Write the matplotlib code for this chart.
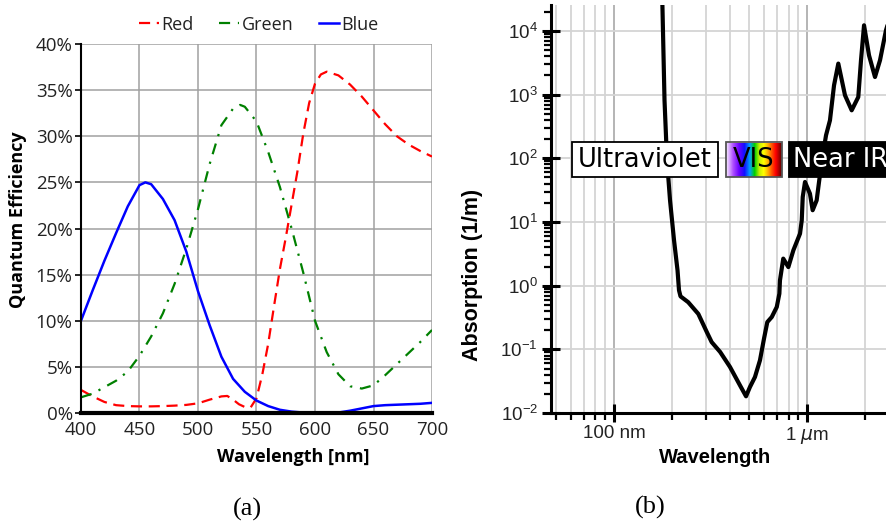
import numpy as np
import matplotlib
matplotlib.use("Agg")
import matplotlib.pyplot as plt
from matplotlib.colors import LinearSegmentedColormap
from matplotlib.patches import Rectangle
from matplotlib.ticker import LogLocator, FixedLocator, NullFormatter, FuncFormatter

# ---- panel (a): quantum efficiency of the RGB filters (%)
red_wl = [400, 410, 420, 430, 440, 450, 460, 470, 480, 490, 500, 510, 520, 525, 530, 535, 540, 545,
          550, 555, 560, 565, 570, 575, 580, 585, 590, 595, 600, 605, 610, 620, 630, 640, 650, 660,
          670, 680, 690, 700]
red_qe = [2.5, 1.8, 1.2, 0.85, 0.75, 0.72, 0.72, 0.75, 0.8, 0.88, 1.05, 1.45, 1.8, 1.85, 1.45, 0.95,
          0.65, 0.6, 1.6, 4.2, 7.5, 11.6, 15.6, 19.0, 22.6, 26.2, 30.3, 33.6, 35.7, 36.7, 37.0, 36.6,
          35.6, 34.3, 32.8, 31.3, 30.0, 29.1, 28.4, 27.8]

green_wl = [400, 410, 420, 430, 440, 450, 460, 470, 480, 490, 500, 510, 520, 530, 536, 540, 550, 560,
            570, 580, 590, 600, 610, 620, 630, 640, 650, 660, 670, 680, 690, 700]
green_qe = [1.7, 2.1, 2.8, 3.5, 4.5, 6.2, 8.3, 10.8, 14.0, 17.8, 22.1, 27.0, 31.2, 33.0, 33.4, 33.2,
            31.6, 28.3, 24.5, 20.0, 15.2, 10.0, 6.6, 4.2, 2.9, 2.65, 3.0, 4.1, 5.3, 6.5, 7.7, 9.0]

blue_wl = [400, 410, 420, 430, 440, 450, 455, 460, 470, 480, 490, 500, 510, 520, 530, 540, 550, 560,
           570, 580, 590, 600, 610, 620, 630, 640, 650, 660, 670, 680, 690, 700]
blue_qe = [10.0, 13.3, 16.5, 19.5, 22.4, 24.7, 25.0, 24.8, 23.2, 20.9, 17.5, 13.2, 9.5, 6.1, 3.7,
           2.3, 1.35, 0.75, 0.35, 0.15, 0.05, 0.0, 0.0, 0.05, 0.25, 0.5, 0.75, 0.85, 0.9, 0.95, 1.0, 1.1]

# ---- panel (b): absorption of water (1/m) vs wavelength (nm)
water_wl = [176, 178, 182.5, 188, 194.9, 204.4, 213.1, 216.9, 220.8, 242, 273, 302, 320, 354, 398,
            449, 482, 505, 536, 569, 597, 621, 655, 695, 717, 722, 751, 798, 847, 917, 936, 947, 973,
            1032, 1066, 1118, 1153, 1191, 1250, 1310, 1375, 1447, 1567, 1697, 1836, 1896, 1966, 2086,
            2240, 2378, 2553, 2742]
water_abs = [4.0e4, 2.5e4, 815, 93, 21.9, 5.16, 1.74, 0.845, 0.68, 0.55, 0.36, 0.187, 0.13, 0.091,
             0.053, 0.027, 0.0183, 0.0256, 0.0367, 0.0673, 0.147, 0.268, 0.322, 0.462, 0.75, 1.21, 2.66,
             1.96, 3.59, 6.57, 10.6, 24.7, 42.5, 27.9, 15.3, 21.9, 45.2, 93, 230, 395, 1400, 3075, 977,
             568, 919, 3466, 12280, 4150, 1893, 3466, 10250, 21100]

# spectral regions (nm) and the band they sit in (1/m)
region_names = ["Ultraviolet", "VIS", "Near IR"]
region_lo = [60.4, 378, 804]
region_hi = [345, 740, 8000]
band_lo, band_hi = 51, 180

fig = plt.figure(figsize=(8.86, 5.27), dpi=100)

# ================= (a) =================
qfont = "Open Sans"
ax1 = fig.add_axes([0.0914, 0.2163, 0.3962, 0.7002])
ax1.plot(red_wl, red_qe, color="#ff0000", lw=1.6, ls=(0, (5, 3)), label="Red")
ax1.plot(green_wl, green_qe, color="#008000", lw=1.6, ls=(0, (5, 3.5, 1, 3.5)), label="Green")
ax1.plot(blue_wl, blue_qe, color="#0000ff", lw=1.8, label="Blue")
ax1.set_xlim(400, 700)
ax1.set_ylim(0, 40)
ax1.set_xticks(np.arange(400, 701, 50))
ax1.set_yticks(np.arange(0, 41, 5))
ax1.yaxis.set_major_formatter(FuncFormatter(lambda v, p: "%d%%" % v))
ax1.grid(True, color="#a0a0a0", lw=1.1)
ax1.set_axisbelow(True)
for s in ["top", "right"]:
    ax1.spines[s].set_visible(False)
ax1.spines["bottom"].set_linewidth(3)
ax1.spines["left"].set_linewidth(1.5)
ax1.tick_params(axis="x", length=0, pad=6)
ax1.tick_params(axis="y", length=4, width=1.2, direction="out", pad=2)
for lab in ax1.get_xticklabels() + ax1.get_yticklabels():
    lab.set_fontfamily(qfont)
    lab.set_fontsize(13.5)
    lab.set_color("#222222")
ax1.set_xlabel("Wavelength [nm]", fontfamily=qfont, fontsize=13, fontweight="bold")
ax1.set_ylabel("Quantum Efficiency", fontfamily=qfont, fontsize=13, fontweight="bold")
ax1.xaxis.set_label_coords(0.604, -0.119)
ax1.xaxis.label.set_va("center")
ax1.yaxis.set_label_coords(-0.179, 0.523)
ax1.yaxis.label.set_va("center")
leg = ax1.legend(loc="center", bbox_to_anchor=(0.292, 0.953), bbox_transform=fig.transFigure,
                 ncol=3, frameon=False, handlelength=1.1, handletextpad=0.15, columnspacing=1.4,
                 prop={"family": qfont, "size": 13})
for t in leg.get_texts():
    t.set_color("#222222")

# ================= (b) =================
bfont = "Liberation Sans"
ax2 = fig.add_axes([0.6219, 0.2163, 0.4616, 0.7742])
ax2.set_xscale("log")
ax2.set_yscale("log")
ax2.plot(water_wl, water_abs, color="black", lw=3, zorder=3, solid_joinstyle="round")

ax2.xaxis.set_major_locator(FixedLocator([100, 1000]))
ax2.xaxis.set_major_formatter(FuncFormatter(lambda v, p: "100 nm" if v < 500 else r"1 $\mu$m"))
ax2.xaxis.set_minor_locator(LogLocator(base=10, subs=np.arange(2, 10), numticks=50))
ax2.xaxis.set_minor_formatter(NullFormatter())
ax2.yaxis.set_major_locator(LogLocator(base=10, numticks=20))
ax2.yaxis.set_minor_locator(LogLocator(base=10, subs=np.arange(2, 10), numticks=50))
ax2.yaxis.set_minor_formatter(NullFormatter())

ax2.grid(True, which="minor", axis="x", color="#d4d4d4", lw=1.3)
ax2.grid(True, which="major", axis="x", color="#a0a0a0", lw=1.1)
ax2.grid(True, which="major", axis="y", color="#d4d4d4", lw=1.3)
ax2.set_axisbelow(True)
for s in ["top", "right"]:
    ax2.spines[s].set_visible(False)
for s in ["left", "bottom"]:
    ax2.spines[s].set_linewidth(2.2)
ax2.tick_params(which="major", direction="inout", length=13, width=2.2)
ax2.tick_params(which="minor", direction="out", length=5, width=1.6)
ax2.tick_params(axis="x", which="major", pad=2)
ax2.tick_params(axis="y", which="major", pad=3)
for lab in ax2.get_xticklabels() + ax2.get_yticklabels():
    lab.set_fontfamily(bfont)
    lab.set_fontsize(13.5)
    lab.set_color("#222222")
ax2.set_xlabel("Wavelength", fontfamily=bfont, fontsize=14.5, fontweight="bold")
ax2.set_ylabel("Absorption (1/m)", fontfamily=bfont, fontsize=15.5, fontweight="bold")
ax2.xaxis.set_label_coords(0.401, -0.110)
ax2.xaxis.label.set_va("center")
ax2.yaxis.set_label_coords(-0.193, 0.338)
ax2.yaxis.label.set_va("center")

# region boxes
vis_cmap = LinearSegmentedColormap.from_list(
    "vis", ["#f4e4ff", "#b050ff", "#6a00ff", "#1010ff", "#00a0ff", "#00d000", "#c8f000",
            "#ffff00", "#ffb000", "#ff5000", "#ff0000", "#a00000", "#300000"])
face = ["white", "none", "black"]
edge = ["black", "#555555", "black"]
tcol = ["black", "black", "white"]
for name, lo, hi, fc, ec, tc in zip(region_names, region_lo, region_hi, face, edge, tcol):
    if name == "VIS":
        ax2.imshow(np.linspace(0, 1, 256).reshape(1, -1), cmap=vis_cmap, aspect="auto",
                   extent=(lo, hi, band_lo, band_hi), zorder=4, interpolation="bilinear")
    ax2.add_patch(Rectangle((lo, band_lo), hi - lo, band_hi - band_lo, facecolor=fc,
                            edgecolor=ec, lw=1.3, zorder=5))
    if name == "Near IR":
        tx, ha = lo * 1.05, "left"
    else:
        tx, ha = np.sqrt(lo * hi), "center"
    ax2.text(tx, np.sqrt(band_lo * band_hi), name, ha=ha, va="center", color=tc,
             fontfamily="DejaVu Sans", fontsize=18.5, zorder=6)
ax2.set_xlim(47.2, 6166)
ax2.set_ylim(0.01, 25590)

# captions
fig.text(247 / 886, 1 - 509 / 527, "(a)", ha="center", va="center", fontfamily="Liberation Serif",
         fontsize=19)
fig.text(650 / 886, 1 - 507 / 527, "(b)", ha="center", va="center", fontfamily="Liberation Serif",
         fontsize=19)

fig.savefig("out.png", dpi=100)
